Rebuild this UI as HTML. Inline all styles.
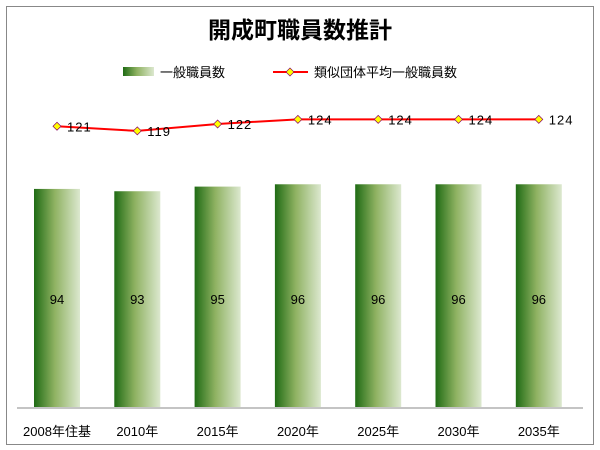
<!DOCTYPE html>
<html><head><meta charset="utf-8"><style>
body{margin:0;background:#fff;width:600px;height:450px;overflow:hidden}
svg{display:block;font-family:"Liberation Sans","Noto Sans CJK JP",sans-serif}
</style></head><body>
<svg width="600" height="450">
<defs><linearGradient id="g" x1="0" x2="1" y1="0" y2="0">
<stop offset="0" stop-color="#1f6b14"/><stop offset="0.45" stop-color="#8fb262"/><stop offset="1" stop-color="#dce8cf"/></linearGradient></defs>
<rect x="6.5" y="6.5" width="587" height="438" fill="#fff" stroke="#888"/>
<text x="300" y="38" text-anchor="middle" font-size="23" font-weight="bold">開成町職員数推計</text>
<g>
<rect x="123" y="67" width="31" height="9" fill="url(#g)"/>
<text x="160" y="77" font-size="13">一般職員数</text>
<line x1="273" y1="72" x2="308" y2="72" stroke="#f00" stroke-width="2"/>
<path d="M290,68 L294,72 L290,76 L286,72Z" fill="#ff0" stroke="#806" stroke-width="0.7"/>
<text x="314" y="77" font-size="13">類似団体平均一般職員数</text>
</g>
<line x1="17" y1="408" x2="583" y2="408" stroke="#888"/>
<g id="plot"></g>
</svg>
<script>
const categories=["2008年住基","2010年","2015年","2020年","2025年","2030年","2035年"];
const staff=[94,93,95,96,96,96,96];
const avg=[121,119,122,124,124,124,124];
const ns="http://www.w3.org/2000/svg";
const g=document.getElementById("plot");
const x=i=>57+i*80.3;
const y=v=>407-v*2.32;
function mk(t,a){const e=document.createElementNS(ns,t);for(const k in a)e.setAttribute(k,a[k]);g.appendChild(e);return e;}
staff.forEach((v,i)=>{
 const r=mk("rect",{x:x(i)-23,y:y(v),width:46,height:407-y(v),fill:"url(#g)"});
 
 
 const t=mk("text",{x:x(i),y:304,"text-anchor":"middle","font-size":"13"});t.textContent=v;
 
 
 const c=mk("text",{x:x(i),y:436,"text-anchor":"middle","font-size":"13"});c.textContent=categories[i];
 
 
});
const pl=mk("polyline",{points:avg.map((v,i)=>x(i)+","+y(v)).join(" "),fill:"none",stroke:"#f00","stroke-width":2});


avg.forEach((v,i)=>{
 const X=x(i),Y=y(v);
 const p=mk("path",{d:`M${X},${Y-4} L${X+4},${Y} L${X},${Y+4} L${X-4},${Y}Z`,fill:"#ff0",stroke:"#806","stroke-width":0.7});
 
 
 const t=mk("text",{x:X+10,y:Y+5,"font-size":"13","letter-spacing":"1"});t.textContent=v;
 
 
});
</script>
</body></html>
